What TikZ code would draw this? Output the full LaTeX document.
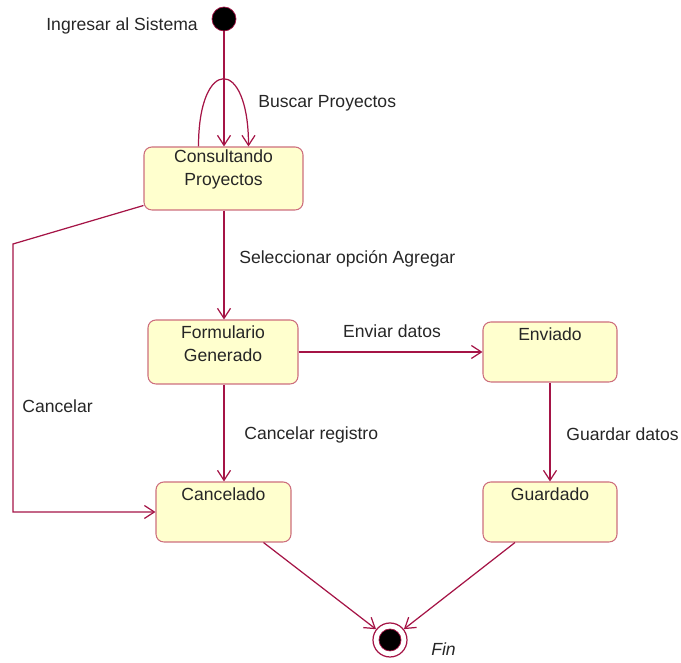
\documentclass[tikz,border=0pt]{standalone}
\usepackage{fontspec}
\setmainfont{Liberation Sans}
\definecolor{uml_line}{RGB}{165, 20, 70}
\definecolor{uml_edge}{RGB}{205, 110, 125}
\definecolor{uml_fill}{RGB}{255, 255, 206}
\usepackage{tikz}
\usetikzlibrary{arrows.meta, positioning}

\begin{document}
\begin{tikzpicture}[font=\fontsize{10}{13}\selectfont,
            >={Straight Barb[length=0.2cm, width=0.26cm]},
            flow/.style={->, uml_line, line width=0.7pt},
            state/.style={draw=uml_edge, fill=uml_fill, rounded corners=4.5pt,
                          align=center, line width=0.6pt, text=black!85},
            toptext/.style={state, inner ysep=0pt, text height=0.38cm,
                            text depth=0.82cm},
            lbl/.style={anchor=west, inner xsep=0pt, text=black!85}]
            \useasboundingbox (0,0) rectangle (13.62,13.26);

            \node[circle, fill=black, draw=uml_line, minimum size=0.48cm,
                  inner sep=0pt] (ini) at (4.48,12.88) {};
            \node[lbl] (ingresar) at (0.92,12.74) {Ingresar al Sistema};

            \node[state, minimum width=3.18cm, minimum height=1.26cm] (cons)
              at (4.47,9.69) {};
            \node[align=center, text=black!85] (consText)
              at ([yshift=0.18cm]cons.center) {Consultando\\Proyectos};
            \node[state, minimum width=3.0cm, minimum height=1.28cm] (form)
              at (4.46,6.22) {};
            \node[align=center, text=black!85] (formText)
              at ([yshift=0.17cm]form.center) {Formulario\\Generado};
            \node[toptext, minimum width=2.68cm] (env) at (11.0,6.22) {Enviado};
            \node[toptext, minimum width=2.7cm] (canc) at (4.47,3.02) {Cancelado};
            \node[toptext, minimum width=2.68cm] (guard) at (11.0,3.02) {Guardado};

            \node[circle, draw=uml_line, fill=white, line width=0.7pt,
                  minimum size=0.68cm, inner sep=0pt] (fin) at (7.8,0.46) {};
            \node[circle, fill=black, draw=uml_line, minimum size=0.44cm,
                  inner sep=0pt] (finDot) at (fin) {};
            \node[lbl, font=\fontsize{10}{13}\selectfont\itshape] (finText)
              at (8.62,0.28) {Fin};

            \coordinate (bend) at (0.26,8.38);

            \draw[flow] (ini) -- (ini |- cons.north);
            \draw[flow] ([xshift=-0.5cm]cons.north) .. controls +(0,1.8) and +(0,1.8)
              .. ([xshift=0.5cm]cons.north);
            \node[lbl] (buscar) at (5.16,11.2) {Buscar Proyectos};

            \draw[flow] (cons.south -| ini) -- (form.north -| ini);
            \node[lbl] (selec) at (4.78,8.08) {Seleccionar opci\'on Agregar};

            \draw[flow] (form) -- (env);
            \node[text=black!85] (enviar) at (7.84,6.64) {Enviar datos};

            \draw[flow] (form.south -| ini) -- (canc.north -| ini);
            \node[lbl] (cancReg) at (4.88,4.56) {Cancelar registro};

            \draw[flow] (env) -- (guard);
            \node[lbl] (guardar) at (11.32,4.58) {Guardar datos};

            \draw[flow] ([yshift=0.1cm]cons.south west) -- (bend) |- (canc.west);
            \node[lbl] (cancelar) at (0.44,5.14) {Cancelar};

            \draw[flow] ([xshift=0.8cm]canc.south) -- (fin);
            \draw[flow] ([xshift=-0.7cm]guard.south) -- (fin);
          \end{tikzpicture}
\end{document}
